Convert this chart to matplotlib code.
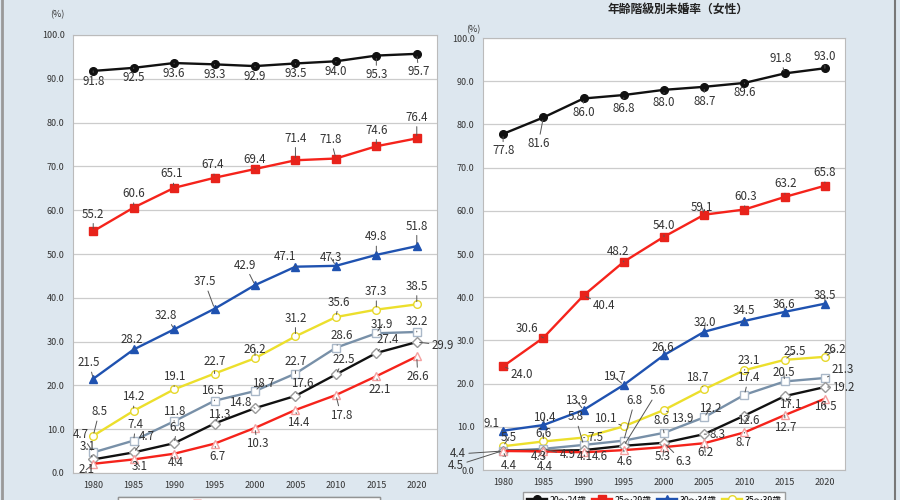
import matplotlib
matplotlib.use("Agg")
import matplotlib.pyplot as plt
from matplotlib.lines import Line2D

plt.rcParams['font.family'] = ['Noto Sans CJK JP', 'DejaVu Sans']

years = ["1980", "1985", "1990", "1995", "2000", "2005", "2010", "2015", "2020"]
ages = ["20～24歳", "25～29歳", "30～34歳", "35～39歳", "40～44歳", "45～49歳", "50～54歳"]

# male (left)
m_20_24 = [91.8, 92.5, 93.6, 93.3, 92.9, 93.5, 94.0, 95.3, 95.7]
m_25_29 = [55.2, 60.6, 65.1, 67.4, 69.4, 71.4, 71.8, 74.6, 76.4]
m_30_34 = [21.5, 28.2, 32.8, 37.5, 42.9, 47.1, 47.3, 49.8, 51.8]
m_35_39 = [8.5, 14.2, 19.1, 22.7, 26.2, 31.2, 35.6, 37.3, 38.5]
m_40_44 = [4.7, 7.4, 11.8, 16.5, 18.7, 22.7, 28.6, 31.9, 32.2]
m_45_49 = [3.1, 4.7, 6.8, 11.3, 14.8, 17.6, 22.5, 27.4, 29.9]
m_50_54 = [2.1, 3.1, 4.4, 6.7, 10.3, 14.4, 17.8, 22.1, 26.6]

# female (right)
f_20_24 = [77.8, 81.6, 86.0, 86.8, 88.0, 88.7, 89.6, 91.8, 93.0]
f_25_29 = [24.0, 30.6, 40.4, 48.2, 54.0, 59.1, 60.3, 63.2, 65.8]
f_30_34 = [9.1, 10.4, 13.9, 19.7, 26.6, 32.0, 34.5, 36.6, 38.5]
f_35_39 = [5.5, 6.6, 7.5, 10.1, 13.9, 18.7, 23.1, 25.5, 26.2]
f_40_44 = [4.4, 4.9, 5.8, 6.8, 8.6, 12.2, 17.4, 20.5, 21.3]
f_45_49 = [4.5, 4.4, 4.6, 5.6, 6.3, 8.3, 12.6, 17.1, 19.2]
f_50_54 = [4.4, 4.3, 4.1, 4.6, 5.3, 6.2, 8.7, 12.7, 16.5]

# label offsets in pixels (dx, dy)
m_offsets = [
    [(0, -11), (0, -10), (0, -10), (0, -10), (0, -10), (0, -10), (0, -10), (0, -19), (2, -18)],
    [(0, 17), (0, 14), (-2, 14), (-2, 13), (0, 10), (0, 22), (-5, 19), (0, 16), (0, 21)],
    [(-4, 16), (-2, 10), (-8, 14), (-10, 27), (-10, 20), (-10, 10), (-5, 8), (0, 18), (0, 20)],
    [(6, 24), (0, 14), (0, 13), (0, 12), (0, 9), (0, 18), (3, 15), (0, 18), (0, 18)],
    [(-12, 18), (2, 16), (0, 10), (-2, 10), (8, 8), (0, 12), (6, 12), (6, 9), (0, 10)],
    [(-6, 13), (13, 16), (3, 16), (5, 9), (-15, 6), (7, 12), (8, 15), (11, 13), (26, -3)],
    [(-7, -6), (6, -7), (2, -9), (3, -13), (2, -16), (3, -13), (5, -20), (3, -13), (1, -20)],
]
f_offsets = [
    [(0, -17), (-5, -26), (0, -14), (0, -13), (0, -13), (0, -15), (0, -10), (-4, 15), (0, 12)],
    [(19, -8), (-16, 9), (21, -10), (-6, 10), (0, 11), (-2, 7), (1, 13), (1, 13), (0, 13)],
    [(-12, 7), (1, 8), (-7, 9), (-10, 8), (-1, 8), (1, 9), (-1, 10), (-1, 7), (0, 8)],
    [(6, 9), (0, 8), (12, 0), (-19, 8), (18, -9), (-7, 12), (4, 10), (10, 8), (10, 7)],
    [(-45, -3), (24, -6), (-8, 28), (11, 40), (-2, 12), (6, 9), (4, 17), (-1, 9), (18, 8)],
    [(-47, -15), (1, -16), (16, -6), (34, 55), (19, -19), (13, 0), (4, -5), (6, -8), (18, 0)],
    [(6, -15), (-5, -5), (1, -4), (1, -11), (-1, -9), (1, -9), (-1, -10), (1, -12), (0, -8)],
]

colors = ['#111111', '#f5231b', '#1f52b0', '#ecdf2c', '#7890a8', '#111111', '#f5231b']
markers = ['o', 's', '^', 'o', 's', 'D', '^']
filled = [True, True, True, False, False, False, False]
m_edges = ['#111111', '#e8231b', '#1f52b0', '#e6d82c', '#aab8c8', '#999999', '#f4a0a0']

fig = plt.figure(figsize=(9, 5), dpi=100)
fig.patch.set_facecolor('#dde7ef')

ax1 = fig.add_axes([73 / 900, 27 / 500, 364 / 900, 438 / 500])
ax2 = fig.add_axes([483 / 900, 30 / 500, 362 / 900, 432 / 500])

male = [m_20_24, m_25_29, m_30_34, m_35_39, m_40_44, m_45_49, m_50_54]
female = [f_20_24, f_25_29, f_30_34, f_35_39, f_40_44, f_45_49, f_50_54]

x = list(range(len(years)))
for ax, data, offs in [(ax1, male, m_offsets), (ax2, female, f_offsets)]:
    ax.set_facecolor('white')
    for i, ys in enumerate(data):
        ax.plot(x, ys, color=colors[i], lw=1.7, marker=markers[i],
                markersize=5.5 if markers[i] != 'D' else 5,
                markerfacecolor=m_edges[i] if filled[i] else 'white',
                markeredgecolor=m_edges[i], markeredgewidth=1.0,
                label=ages[i], zorder=3)
        for j, v in enumerate(ys):
            dx, dy = offs[i][j]
            ax.annotate(f"{v:.1f}", (x[j], v), xytext=(dx, dy),
                        textcoords='offset pixels', ha='center', va='center',
                        fontsize=8.3, color='#333333', zorder=4,
                        annotation_clip=False,
                        arrowprops=dict(arrowstyle='-', color='#555555', lw=0.7,
                                        shrinkA=0, shrinkB=2))
    ax.set_xlim(-0.5, 8.5)
    ax.set_ylim(0, 100)
    ax.set_yticks(range(0, 101, 10))
    ax.set_yticklabels([f"{t:.1f}" for t in range(0, 101, 10)])
    ax.set_xticks(x)
    ax.set_xticklabels(years)
    ax.tick_params(length=0, labelsize=6.5, labelcolor='#333333', pad=6)
    ax.grid(axis='y', color='#cccccc', lw=0.9)
    ax.set_axisbelow(True)
    for s in ax.spines.values():
        s.set_color('#bbbbbb')
        s.set_linewidth(0.8)

fig.text(57 / 900, 1 - 15 / 500, "(%)", fontsize=6.5, color='#333333', ha='center', va='center')
fig.text(473 / 900, 1 - 30 / 500, "(%)", fontsize=6.5, color='#333333', ha='center', va='center')
fig.text(678 / 900, 1 - 9 / 500, "年齢階級別未婚率（女性）", fontsize=8.5, color='#222222',
         ha='center', va='center', fontweight='bold')

# row-major order for a 4-column legend
order = [0, 4, 1, 5, 2, 6, 3]
leg_kw = dict(loc='upper left', ncol=4, fontsize=6.3, frameon=True, fancybox=False,
              edgecolor='#888888', handlelength=2.3, handletextpad=0.3,
              columnspacing=0.6, borderaxespad=0, borderpad=0.4)
leg1 = fig.legend(handles=[ax1.get_lines()[k] for k in order],
                  bbox_to_anchor=(118 / 900, 1 - 497 / 500), **leg_kw)
leg2 = fig.legend(handles=[ax2.get_lines()[k] for k in order],
                  bbox_to_anchor=(523 / 900, 1 - 492 / 500), **leg_kw)
fig.add_artist(leg1)

fig.add_artist(Line2D([0.002, 0.002], [0, 1], color='#999999', lw=2, transform=fig.transFigure))
fig.add_artist(Line2D([0.994, 0.994], [0, 1], color='#777777', lw=1.5, transform=fig.transFigure))

fig.savefig("out.png", dpi=100, facecolor=fig.get_facecolor())
